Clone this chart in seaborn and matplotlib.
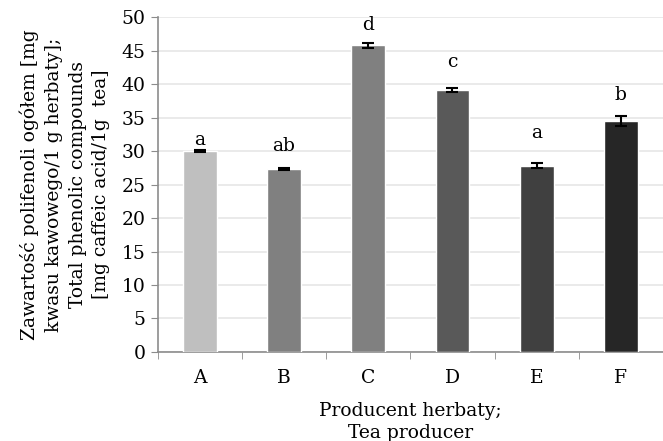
import numpy as np
import pandas as pd
import seaborn as sns
import matplotlib.pyplot as plt

# -- Zawartość polifenoli ogółem -- #

producenci = ["A", "B", "C", "D", "E", "F"]
polifenole = [30.0, 27.3, 45.8, 39.1, 27.8, 34.5]
odchylenie = [0.1, 0.1, 0.4, 0.25, 0.35, 0.7]
litery = ["a", "ab", "d", "c", "a", "b"]
litery_y = [31.6, 30.7, 48.8, 43.3, 32.7, 38.4]
kolory = ["#bfbfbf", "#808080", "#808080", "#595959", "#404040", "#262626"]

dane = pd.DataFrame({"producent": producenci, "polifenole": polifenole})

sns.set_style("white")
plt.rcParams["font.family"] = ["DejaVu Serif"]
plt.rcParams["text.color"] = "black"
plt.rcParams["axes.labelcolor"] = "black"
plt.rcParams["xtick.color"] = "black"
plt.rcParams["ytick.color"] = "black"
fs = 13.5

fig = plt.figure(figsize=(6.63, 4.41), dpi=100)
ax = fig.add_axes([0.238, 0.202, 0.762, 0.759])

sns.barplot(data=dane, x="producent", y="polifenole", hue="producent",
            palette=kolory, width=0.4, legend=False, ax=ax, zorder=3)
ax.errorbar(range(len(producenci)), polifenole, yerr=odchylenie, fmt="none",
            ecolor="black", elinewidth=1.5, capsize=4.5, capthick=1.5, zorder=4)

for i, (y, t) in enumerate(zip(litery_y, litery)):
    ax.text(i, y, t, ha="center", va="center", fontsize=fs, color="black")

ax.set_ylim(0, 50)
ax.set_xlim(-0.5, 5.5)
ax.set_yticks(range(0, 51, 5))
ax.yaxis.grid(True, color="#e6e6e6", linewidth=1.2, zorder=0)
ax.set_axisbelow(True)

for s in ["top", "right"]:
    ax.spines[s].set_visible(False)
for s in ["left", "bottom"]:
    ax.spines[s].set_color("#8c8c8c")
    ax.spines[s].set_linewidth(1.2)

ax.tick_params(axis="y", direction="out", length=5, color="#8c8c8c", labelcolor="black",
               labelsize=fs, left=True, pad=4)
ax.set_xticks(np.arange(-0.5, 5.6, 1), minor=True)
ax.tick_params(axis="x", which="major", length=0, labelsize=fs, labelcolor="black", pad=12)
ax.tick_params(axis="x", which="minor", direction="out", length=5, color="#8c8c8c", bottom=True)

ax.set_xlabel("Producent herbaty;\nTea producer", fontsize=fs, linespacing=1.3, labelpad=11)
ax.set_ylabel("Zawartość polifenoli ogółem [mg\nkwasu kawowego/1 g herbaty];\nTotal phenolic compounds\n[mg caffeic acid/1g  tea]",
              fontsize=fs, linespacing=1.4, ha="center", multialignment="center", labelpad=8)

plt.savefig("out.png", dpi=100)
